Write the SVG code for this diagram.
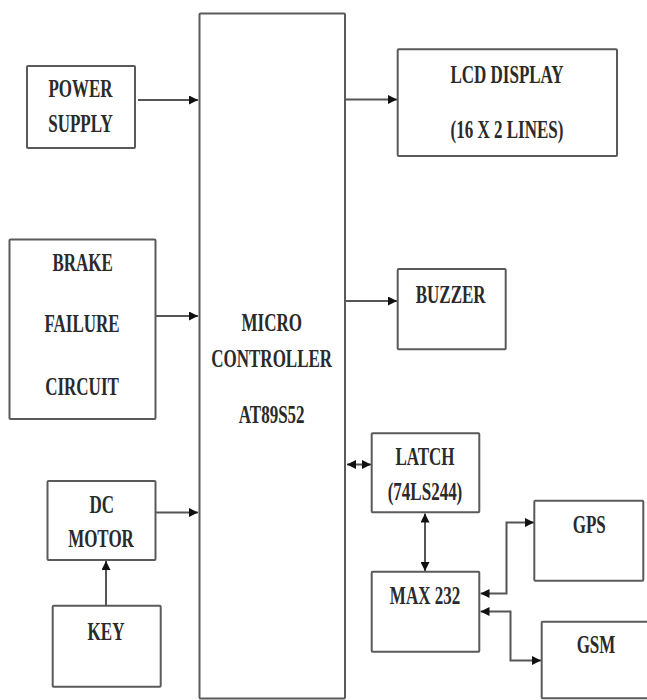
<svg xmlns="http://www.w3.org/2000/svg" width="647" height="700" viewBox="0 0 647 700">
<style>
.box{fill:#fff;stroke:#5a5a5a;stroke-width:2}
.t{font-family:"Liberation Serif","Times New Roman",serif;font-size:17px;font-weight:bold;fill:#2a2a2a;text-anchor:middle}
.c{fill:none;stroke:#555;stroke-width:2}
</style>
<defs>
<marker id="ah" markerUnits="userSpaceOnUse" markerWidth="9" markerHeight="9" refX="9" refY="4.5" orient="auto-start-reverse">
<path d="M0,0 L9,4.5 L0,9 z" fill="#111"/>
</marker>
</defs>
<rect width="647" height="700" fill="#fff"/>
<g id="connectors">
<path class="c" d="M138,100 H198" marker-end="url(#ah)"/>
<path class="c" d="M156,316 H198" marker-end="url(#ah)"/>
<path class="c" d="M156,512.5 H198" marker-end="url(#ah)"/>
<path class="c" d="M106,605 V561" marker-end="url(#ah)"/>
<path class="c" d="M345,99.5 H397" marker-end="url(#ah)"/>
<path class="c" d="M345,301 H397" marker-end="url(#ah)"/>
<path class="c" d="M347,464.5 H371" marker-start="url(#ah)" marker-end="url(#ah)"/>
<path class="c" d="M425,513.5 V571" marker-start="url(#ah)" marker-end="url(#ah)"/>
<path class="c" d="M480.5,593.5 H506.5 V522.5 H534" marker-start="url(#ah)" marker-end="url(#ah)"/>
<path class="c" d="M480.5,611.5 H510.5 V660.5 H541" marker-start="url(#ah)" marker-end="url(#ah)"/>
</g>
<g id="micro">
<rect class="box" x="199.5" y="13.5" width="145.5" height="685" rx="1"/>
<text class="t" transform="translate(271.7,331) scale(1,1.5)">MICRO</text>
<text class="t" transform="translate(271.7,366.7) scale(1,1.5)">CONTROLLER</text>
<text class="t" transform="translate(271.7,423.3) scale(1,1.5)">AT89S52</text>
</g>
<g id="power">
<rect class="box" x="27" y="66" width="108" height="82" rx="1"/>
<text class="t" transform="translate(80.5,97) scale(1,1.5)">POWER</text>
<text class="t" transform="translate(80.5,131.7) scale(1,1.5)">SUPPLY</text>
</g>
<g id="brake">
<rect class="box" x="9.5" y="239.5" width="146" height="179.5" rx="1"/>
<text class="t" transform="translate(82.7,270.7) scale(1,1.5)">BRAKE</text>
<text class="t" transform="translate(82,331.7) scale(1,1.5)">FAILURE</text>
<text class="t" transform="translate(82,395) scale(1,1.5)">CIRCUIT</text>
</g>
<g id="dcmotor">
<rect class="box" x="47.5" y="481" width="108" height="79" rx="1"/>
<text class="t" transform="translate(101.7,513.3) scale(1,1.5)">DC</text>
<text class="t" transform="translate(101,547.3) scale(1,1.5)">MOTOR</text>
</g>
<g id="key">
<rect class="box" x="52.7" y="605.7" width="108" height="81" rx="1"/>
<text class="t" transform="translate(106,640) scale(1,1.5)">KEY</text>
</g>
<g id="lcd">
<rect class="box" x="397.7" y="49.3" width="219.3" height="106.7" rx="1"/>
<text class="t" transform="translate(507,82.7) scale(1,1.5)">LCD DISPLAY</text>
<text class="t" transform="translate(507,138) scale(1,1.5)">(16 X 2 LINES)</text>
</g>
<g id="buzzer">
<rect class="box" x="397.7" y="269" width="108" height="80.3" rx="1"/>
<text class="t" transform="translate(450.7,302.7) scale(1,1.5)">BUZZER</text>
</g>
<g id="latch">
<rect class="box" x="371.7" y="433.3" width="107.6" height="79" rx="1"/>
<text class="t" transform="translate(425,465) scale(1,1.5)">LATCH</text>
<text class="t" transform="translate(425,500) scale(1,1.5)">(74LS244)</text>
</g>
<g id="max232">
<rect class="box" x="371.7" y="571.7" width="107.6" height="80" rx="1"/>
<text class="t" transform="translate(425,604.3) scale(1,1.5)">MAX 232</text>
</g>
<g id="gps">
<rect class="box" x="534.3" y="500.7" width="109" height="80" rx="1"/>
<text class="t" transform="translate(589.3,533.3) scale(1,1.5)">GPS</text>
</g>
<g id="gsm">
<rect class="box" x="541.7" y="621.7" width="110" height="76.6" rx="1"/>
<text class="t" transform="translate(596,653.3) scale(1,1.5)">GSM</text>
</g>
</svg>
